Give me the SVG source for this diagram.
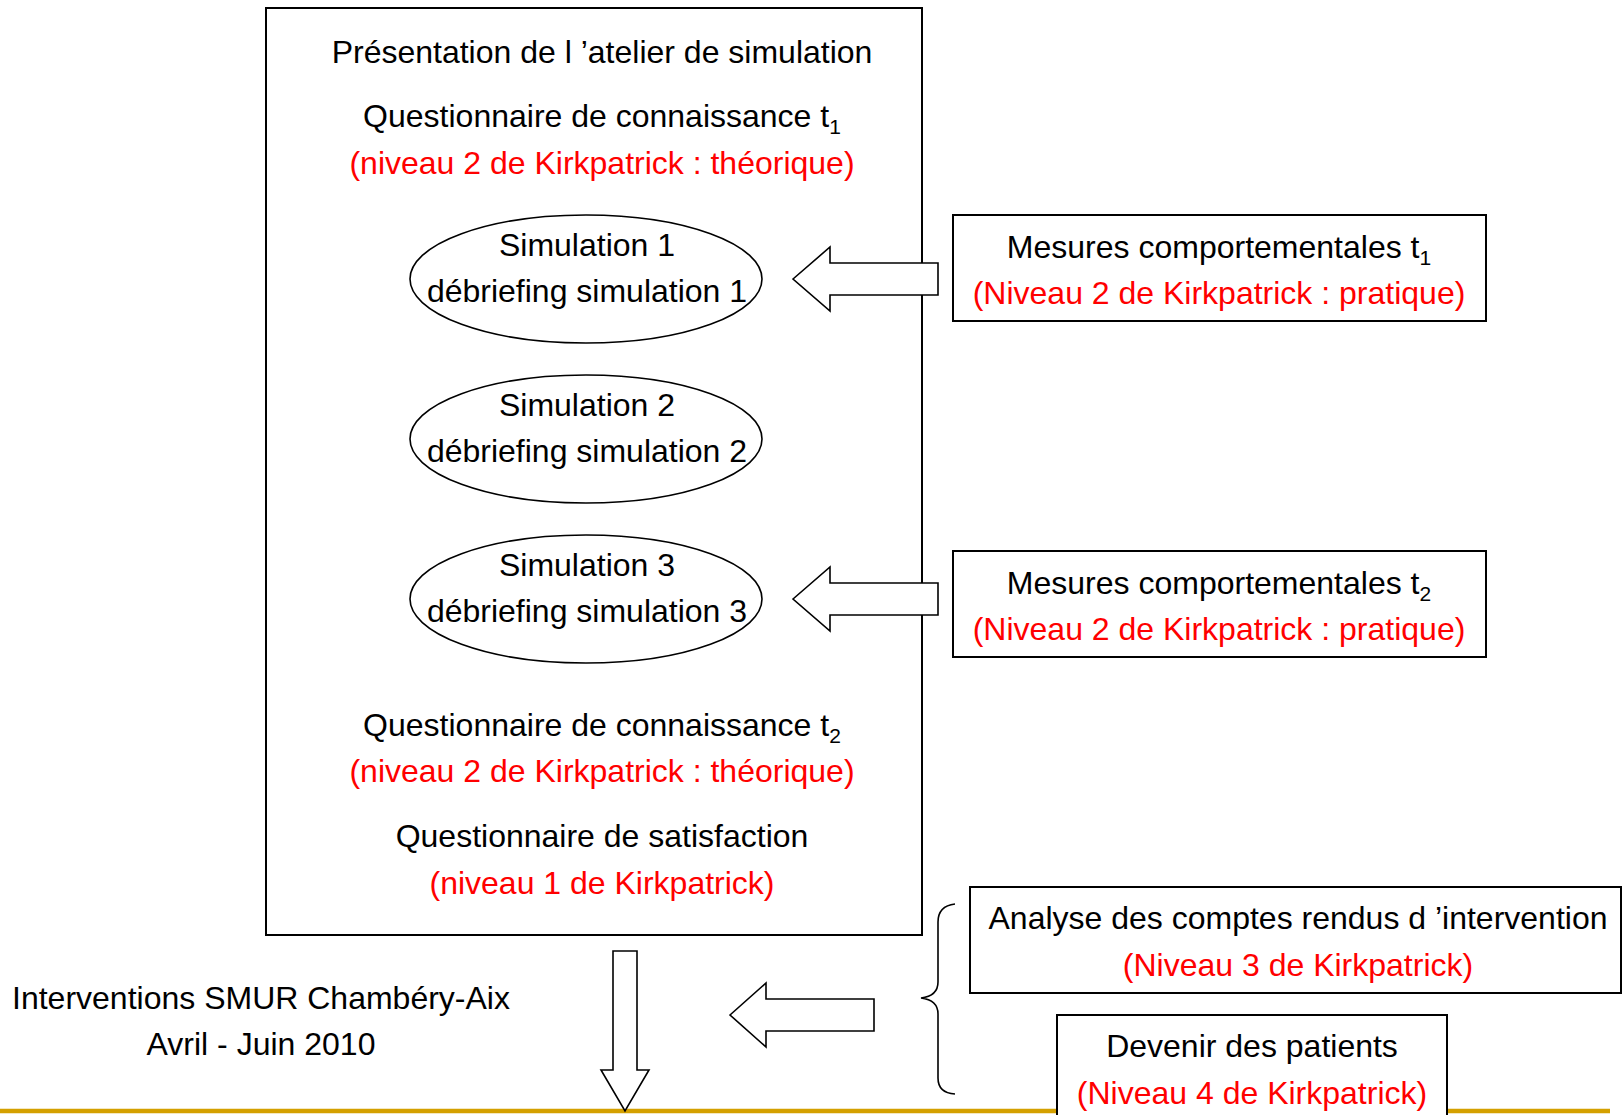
<svg xmlns="http://www.w3.org/2000/svg" width="1622" height="1115" viewBox="0 0 1622 1115">
<style>
.t{font-family:"Liberation Sans",Arial,sans-serif;font-size:32px;fill:#000;text-anchor:middle}
.r{fill:#FF0000}
.box{fill:#fff;stroke:#000;stroke-width:2}
.ell{fill:#fff;stroke:#000;stroke-width:1.6}
.arr{fill:#fff;stroke:#000;stroke-width:1.6;stroke-linejoin:miter}
.sub{font-size:21px}
</style>
<rect width="1622" height="1115" fill="#fff"/>
<line x1="0" y1="1111" x2="1610" y2="1111" stroke="#D4A000" stroke-width="4.5"/>
<g id="atelier">
<rect class="box" x="266" y="8" width="656" height="927"/>
<text class="t" x="602" y="63">Présentation de l ’atelier de simulation</text>
<text class="t" x="602" y="127">Questionnaire de connaissance t<tspan class="sub" dy="7">1</tspan></text>
<text class="t r" x="602" y="174">(niveau 2 de Kirkpatrick : théorique)</text>
<text class="t" x="602" y="736">Questionnaire de connaissance t<tspan class="sub" dy="7">2</tspan></text>
<text class="t r" x="602" y="782">(niveau 2 de Kirkpatrick : théorique)</text>
<text class="t" x="602" y="847">Questionnaire de satisfaction</text>
<text class="t r" x="602" y="894">(niveau 1 de Kirkpatrick)</text>
</g>
<g id="sim1">
<ellipse class="ell" cx="586" cy="279" rx="176" ry="64"/>
<text class="t" x="587" y="256">Simulation 1</text>
<text class="t" x="587" y="302">débriefing simulation 1</text>
</g>
<g id="sim2">
<ellipse class="ell" cx="586" cy="439" rx="176" ry="64"/>
<text class="t" x="587" y="416">Simulation 2</text>
<text class="t" x="587" y="462">débriefing simulation 2</text>
</g>
<g id="sim3">
<ellipse class="ell" cx="586" cy="599" rx="176" ry="64"/>
<text class="t" x="587" y="576">Simulation 3</text>
<text class="t" x="587" y="622">débriefing simulation 3</text>
</g>
<g id="mesures1">
<rect class="box" x="953" y="215" width="533" height="106"/>
<text class="t" x="1219" y="258">Mesures comportementales t<tspan class="sub" dy="7">1</tspan></text>
<text class="t r" x="1219" y="304">(Niveau 2 de Kirkpatrick : pratique)</text>
</g>
<g id="mesures2">
<rect class="box" x="953" y="551" width="533" height="106"/>
<text class="t" x="1219" y="594">Mesures comportementales t<tspan class="sub" dy="7">2</tspan></text>
<text class="t r" x="1219" y="640">(Niveau 2 de Kirkpatrick : pratique)</text>
</g>
<g id="interventions">
<text class="t" x="261" y="1009">Interventions SMUR Chambéry-Aix</text>
<text class="t" x="261" y="1055">Avril - Juin 2010</text>
</g>
<g id="analyse">
<rect class="box" x="970" y="887" width="651" height="106"/>
<text class="t" x="1298" y="929">Analyse des comptes rendus d ’intervention</text>
<text class="t r" x="1298" y="976">(Niveau 3 de Kirkpatrick)</text>
</g>
<g id="devenir">
<rect class="box" x="1057" y="1015" width="390" height="120"/>
<text class="t" x="1252" y="1057">Devenir des patients</text>
<text class="t r" x="1252" y="1104">(Niveau 4 de Kirkpatrick)</text>
</g>
<g id="connectors">
<path class="arr" d="M793,279 L830,247 L830,263 L938,263 L938,295 L830,295 L830,311 Z"/>
<path class="arr" d="M793,599 L830,567 L830,583 L938,583 L938,615 L830,615 L830,631 Z"/>
<path class="arr" d="M730,1015 L766,983 L766,999 L874,999 L874,1031 L766,1031 L766,1047 Z"/>
<path class="arr" d="M613,951 L637,951 L637,1070 L649,1070 L625,1111 L601,1070 L613,1070 Z"/>
<path d="M955,904 Q938,906 938,922 L938,982 Q938,996 921,998 Q938,1000 938,1014 L938,1078 Q938,1093 955,1094" fill="none" stroke="#000" stroke-width="1.6"/>
</g>
</svg>
